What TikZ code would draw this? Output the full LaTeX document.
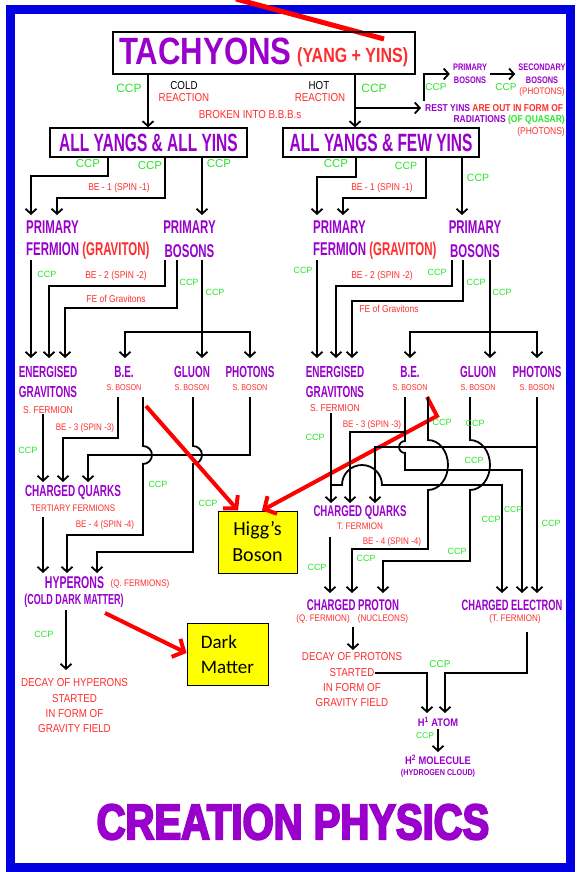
\documentclass[tikz,border=0pt]{standalone}
\usepackage{fontspec}
\setmainfont{Liberation Sans}
\newfontfamily\fB{Liberation Sans}[FakeStretch=0.62]
\newfontfamily\fT{Liberation Sans}[FakeStretch=0.78]
\newfontfamily\fTT{Liberation Sans}[FakeStretch=0.82]
\newfontfamily\fN{Liberation Sans}[FakeStretch=0.85]
\newfontfamily\fC{Liberation Sans}[FakeStretch=0.8,BoldFeatures={FakeBold=4}]
\newfontfamily\fK{Carlito}
\usetikzlibrary{arrows.meta}
\definecolor{purp}{RGB}{153,0,204}
\definecolor{redc}{RGB}{255,45,45}
\definecolor{grn}{RGB}{40,230,40}
\definecolor{bordb}{RGB}{0,0,225}
\definecolor{yel}{RGB}{255,255,0}
\newcommand\fs[1]{\fontsize{#1}{#1}\selectfont}
\begin{document}
\begin{tikzpicture}[x=1pt,y=-1pt,
 arr/.style={line width=1.8pt,-{Straight Barb[length=5pt,width=11pt]}},
 P/.style={text=purp,inner sep=0,font=\fB\bfseries\fs{16}},
 PP/.style={text=purp,inner sep=0,font=\fB\bfseries\fs{18.5}},
 PS/.style={text=purp,inner sep=0,font=\fT\bfseries\fs{9.5}},
 R/.style={text=redc,inner sep=0,font=\fN\fs{9.5}},
 RS/.style={text=redc,inner sep=0,font=\fN\fs{8.5}},
 RB/.style={text=redc,inner sep=0,font=\fN\fs{11.5}},
 G/.style={text=grn,inner sep=0,font=\fs{9}},
 GL/.style={text=grn,inner sep=0,font=\fs{11.5}},
 box/.style={draw,line width=1.4pt,inner sep=0},
 ybox/.style={draw,fill=yel,line width=1pt,inner sep=0,text=black,align=left},
 rarr/.style={draw=red,line width=4pt,-{Straight Barb[length=9pt,width=20pt]}}]
\useasboundingbox (0,0) rectangle (576,872);
\fill[white] (0,0) rectangle (576,872);
\draw[bordb,line width=9pt] (10,10) rectangle (570,867);
\draw[red,line width=5pt] (236,-1) -- (384,39);

% top
\node[box,minimum width=302pt,minimum height=42pt] (tach) at (264,53) {};
\node[anchor=base west,inner sep=0,text=purp,font=\fTT\bfseries\fs{38}] (tachT) at (119,65) {TACHYONS};
\node[anchor=base west,inner sep=0,text=redc,font=\fT\bfseries\fs{20.5}] (yang) at (297,63) {(YANG + YINS)};
\node[GL,font=\fs{12}] (c1) at (129,88) {CCP};
\node[inner sep=0,font=\fN\fs{11.5}] (cold) at (184,86) {COLD};
\node[RB] (cre) at (184,98) {REACTION};
\node[inner sep=0,font=\fN\fs{11.5}] (hot) at (319,86) {HOT};
\node[RB] (hre) at (320,98) {REACTION};
\node[GL,font=\fs{12}] (c2) at (374,88) {CCP};
\node[RB] (brk) at (250,115) {BROKEN INTO B.B.B.s};
\node[box,minimum width=197pt,minimum height=29pt,text=purp,font=\fB\bfseries\fs{25}] (ayl) at (148.5,142.5) {ALL YANGS \& ALL YINS};
\node[box,minimum width=196pt,minimum height=29pt,text=purp,font=\fB\bfseries\fs{25}] (ayr) at (381,142.5) {ALL YANGS \& FEW YINS};
\draw[arr] (tach.south -| 148,0) -- (ayl.north -| 148,0);
\draw[arr] (tach.south -| 355,0) -- (ayr.north -| 355,0);
\node[font=\fN\bfseries\fs{10},inner sep=0,anchor=west] (rest) at (425,108) {\color{purp}REST YINS \color{redc}ARE OUT IN FORM OF};
\node[font=\fN\bfseries\fs{10},inner sep=0,anchor=east] (rad) at (565,120) {\color{purp}RADIATIONS \color{grn}(OF QUASAR)};
\node[RS,font=\fN\fs{10},anchor=east] (rph) at (565,132) {(PHOTONS)};
\draw[arr] (355,108) -- ([xshift=-4pt]rest.west);
\node[PS] (pb0a) at (470,67) {PRIMARY};
\node[PS] (pb0b) at (470,80) {BOSONS};
\node[PS] (sb0a) at (542,67) {SECONDARY};
\node[PS] (sb0b) at (542,80) {BOSONS};
\node[R,font=\fN\fs{9.5}] (sb0c) at (542,92) {(PHOTONS)};
\draw[arr] (424,101) |- ([xshift=-3pt]pb0a.west |- 0,74);
\draw[arr] ([xshift=3pt]pb0a.east |- 0,74) -- ([xshift=-3pt]sb0a.west |- 0,74);
\node[GL,font=\fs{10}] (c3) at (436,87) {CCP};
\node[GL,font=\fs{10}] (c4) at (506,87) {CCP};

% left subtree
\draw[arr] (ayl.south -| 108,0) |- (31,176) -- (31,215);
\draw[arr] (ayl.south -| 165,0) |- (57,198) -- (57,215);
\draw[arr] (ayl.south -| 202,0) -- (202,215);
\node[GL] (c5) at (88,164) {CCP};
\node[GL] (c6) at (150,166) {CCP};
\node[GL] (c7) at (219,164) {CCP};
\node[R,font=\fN\fs{10}] (be1l) at (119,188) {BE - 1 (SPIN -1)};
\node[PP,anchor=west] (pfl1) at (26,227) {PRIMARY};
\node[PP,anchor=west] (pfl2) at (26,251) {FERMION {\color{redc}(GRAVITON)}};
\node[PP] (pbl1) at (189.5,227) {PRIMARY};
\node[PP] (pbl2) at (189.5,251) {BOSONS};
\draw[arr] (31,260) -- (31,358);
\draw[arr] (165,260) |- (49,286) -- (49,358);
\draw[arr] (177,260) |- (65,308) -- (65,358);
\draw[arr] (202,260) -- (202,358);
\draw[arr] (202,332) -| (125,358);
\draw[arr] (202,332) -| (250,358);
\node[G] (c8) at (47,274) {CCP};
\node[G] (c9) at (189,282) {CCP};
\node[G] (c10) at (215,292) {CCP};
\node[R,font=\fN\fs{10}] (be2l) at (116,276) {BE - 2 (SPIN -2)};
\node[R,font=\fN\fs{10}] (fel) at (116,299) {FE of Gravitons};
\node[P] (egl1) at (48,372) {ENERGISED};
\node[P] (egl2) at (48,392) {GRAVITONS};
\node[R,font=\fN\fs{10}] (egl3) at (48,410) {S. FERMION};
\node[P] (bel) at (124,372) {B.E.};
\node[RS] (bel2) at (124,388) {S. BOSON};
\node[P] (gll) at (192,372) {GLUON};
\node[RS] (gll2) at (192,388) {S. BOSON};
\node[P] (phl) at (250,372) {PHOTONS};
\node[RS] (phl2) at (250,388) {S. BOSON};
\draw[arr] (43,414) -- (43,482);
\draw[arr] (118,397) |- (63,438) -- (63,482);
\draw[arr] (250,397) |- (88,455) -- (88,482);
\draw[arr] (143,397) -- (143,446) arc[start angle=-90,end angle=90,radius=9] |- (67,535) -- (67,573);
\draw[arr] (193,397) -- (193,446) arc[start angle=-90,end angle=90,radius=9] |- (97,552) -- (97,573);
\node[G] (c11) at (28,450) {CCP};
\node[R] (be3l) at (85,428) {BE - 3 (SPIN -3)};
\node[G] (c12) at (158,484) {CCP};
\node[G] (c13) at (208,503) {CCP};
\node[P] (cql) at (73,492) {CHARGED QUARKS};
\node[R] (cql2) at (73,508) {TERTIARY FERMIONS};
\draw[arr] (43,517) -- (43,573);
\node[R] (be4l) at (105,525) {BE - 4 (SPIN -4)};
\node[P,font=\fB\bfseries\fs{17}] (hyp) at (74.5,583) {HYPERONS};
\node[R] (hyp2) at (140,584) {(Q. FERMIONS)};
\node[P,font=\fB\bfseries\fs{14.5}] (hyp3) at (74,601) {(COLD DARK MATTER)};
\draw[arr] (66,610) -- (66,670);
\node[G] (c14) at (44,634) {CCP};
\node[RB] (dech) at (74.5,683) {DECAY OF HYPERONS};
\node[RB] (dech2) at (74.5,699) {STARTED};
\node[RB] (dech3) at (74.5,714) {IN FORM OF};
\node[RB] (dech4) at (74.5,729) {GRAVITY FIELD};
\node[ybox,minimum width=81pt,minimum height=62pt,font=\fK\fontsize{19}{25}\selectfont] (dark) at (227.5,654) {Dark\\Matter};
\node[ybox,minimum width=79pt,minimum height=62pt,align=center,font=\fK\fontsize{20}{26}\selectfont] (higg) at (257.5,542) {Higg’s\\Boson};
\draw[rarr] (105,613) -- (dark.west |- 0,653);
\draw[rarr] (146,406) -- (higg.north -| 238,0);
\draw[rarr] (427,397) -- (437,416) -- (higg.north -| 262,0);

% right subtree
\draw[arr] (ayr.south -| 356,0) |- (317,177) -- (317,215);
\draw[arr] (ayr.south -| 426,0) |- (343,198) -- (343,215);
\draw[arr] (ayr.south -| 462,0) -- (462,215);
\node[GL] (c15) at (336,164) {CCP};
\node[GL,font=\fs{10.5}] (c16) at (406,166) {CCP};
\node[GL,font=\fs{10.5}] (c17) at (478,178) {CCP};
\node[R,font=\fN\fs{10}] (be1r) at (382,188) {BE - 1 (SPIN -1)};
\node[PP,anchor=west] (pfr1) at (313,227) {PRIMARY};
\node[PP,anchor=west] (pfr2) at (313,251) {FERMION {\color{redc}(GRAVITON)}};
\node[PP] (pbr1) at (475,227) {PRIMARY};
\node[PP] (pbr2) at (475,251) {BOSONS};
\draw[arr] (317,260) -- (317,358);
\draw[arr] (452,260) |- (336,286) -- (336,358);
\draw[arr] (463,260) |- (352,301) -- (352,358);
\draw[arr] (490,260) -- (490,358);
\draw[arr] (490,332) -| (410,358);
\draw[arr] (490,332) -| (537,358);
\node[G] (c18) at (303,270) {CCP};
\node[G] (c19) at (437,272) {CCP};
\node[G] (c20) at (476,282) {CCP};
\node[G] (c21) at (502,292) {CCP};
\node[R,font=\fN\fs{10}] (be2r) at (382,276) {BE - 2 (SPIN -2)};
\node[R,font=\fN\fs{10}] (fer) at (389,309) {FE of Gravitons};
\node[P] (egr1) at (335,372) {ENERGISED};
\node[P] (egr2) at (335,392) {GRAVITONS};
\node[R,font=\fN\fs{10}] (egr3) at (335,408) {S. FERMION};
\node[P] (ber) at (410,372) {B.E.};
\node[RS] (ber2) at (410,388) {S. BOSON};
\node[P] (glr) at (478,372) {GLUON};
\node[RS] (glr2) at (478,388) {S. BOSON};
\node[P] (phr) at (537,372) {PHOTONS};
\node[RS] (phr2) at (537,388) {S. BOSON};
% crossing region
\draw[arr] (331,413) -- (331,503);
\draw[arr] (331,485) -- (342,485) arc[start angle=180,end angle=360,radius=20] -| (502,593);
\draw[arr] (405,397) |- (350,432) -- (350,503);
\draw[arr] (405,432) -- (405,441) arc[start angle=-90,end angle=-270,radius=6] |- (522,470) -- (522,593);
\draw[arr] (428,397) -- (428,440) arc[start angle=-90,end angle=90,x radius=20,y radius=25] |- (352,549) -- (352,593);
\draw[arr] (470,397) -- (470,440) arc[start angle=-90,end angle=90,x radius=20,y radius=25] |- (383,561) -- (383,593);
\draw[arr] (537,397) -- (537,593);
\draw[arr] (537,447) -| (375,503);
\node[G] (c22) at (315,437) {CCP};
\node[R] (be3r) at (372,425) {BE - 3 (SPIN -3)};
\node[G] (c23) at (442,422) {CCP};
\node[G] (c24) at (475,423) {CCP};
\node[G] (c25) at (474,460) {CCP};
\node[P,font=\fB\bfseries\fs{15.5}] (cqr) at (360,513) {CHARGED QUARKS};
\node[R] (cqr2) at (360,526) {T. FERMION};
\draw[arr] (330,537) -- (330,593);
\node[G] (c26) at (317,567) {CCP};
\node[R] (be4r) at (392,542) {BE - 4 (SPIN -4)};
\node[G] (c27) at (366,558) {CCP};
\node[G] (c28) at (457,551) {CCP};
\node[G] (c29) at (491,519) {CCP};
\node[G,font=\fs{8.5}] (c30) at (513,510) {CCP};
\node[G] (c31) at (551,523) {CCP};
\node[P,font=\fB\bfseries\fs{15.5}] (cpr) at (353,605) {CHARGED PROTON};
\node[R] (cpr2) at (323,619) {(Q. FERMION)};
\node[R] (cpr3) at (383,619) {(NUCLEONS)};
\node[P,font=\fB\bfseries\fs{15}] (cel) at (512,605) {CHARGED ELECTRON};
\node[R] (cel2) at (515,619) {(T. FERMION)};
\draw[arr] (353,627) -- (353,650);
\node[RB] (decp) at (352,657) {DECAY OF PROTONS};
\node[RB] (decp2) at (352,673) {STARTED};
\node[RB] (decp3) at (352,688) {IN FORM OF};
\node[RB] (decp4) at (352,703) {GRAVITY FIELD};
\draw[arr] (decp2.east) -| (427,713);
\draw[arr] (527,632) |- (445,673) -- (445,713);
\node[G,font=\fs{10}] (c32) at (440,664) {CCP};
\node[PS,font=\fN\bfseries\fs{11}] (hat) at (438,722) {H\textsuperscript{1} ATOM};
\draw[arr] (438,729) -- (438,752);
\node[G,font=\fs{8.5}] (c33) at (425,736) {CCP};
\node[PS,font=\fN\bfseries\fs{11}] (hmol) at (438,760) {H\textsuperscript{2} MOLECULE};
\node[PS,font=\fN\bfseries\fs{8.5}] (hcl) at (438,773) {(HYDROGEN CLOUD)};
\node[inner sep=0,text=purp,font=\fC\bfseries\fs{50}] (title) at (293,822) {CREATION PHYSICS};
\end{tikzpicture}
\end{document}
